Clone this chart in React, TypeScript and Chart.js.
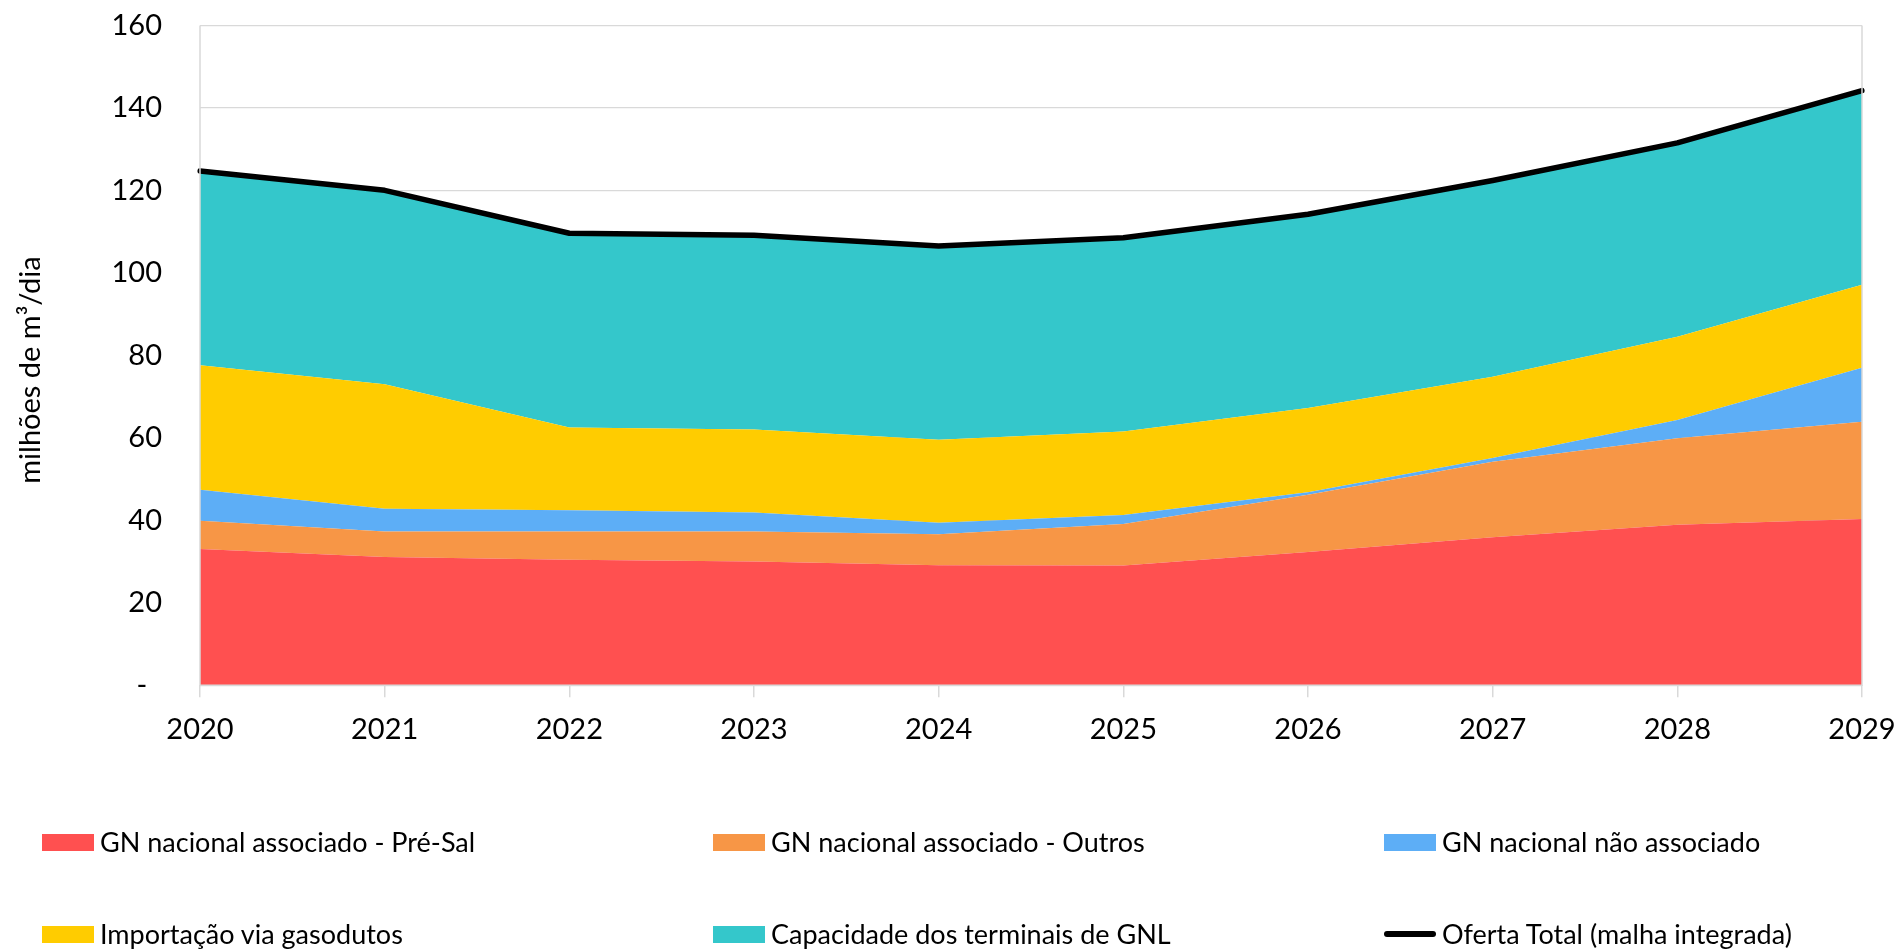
import React, { useEffect, useRef } from "react";
import { Chart, registerables } from "chart.js";

Chart.register(...registerables);

const years = ["2020", "2021", "2022", "2023", "2024", "2025", "2026", "2027", "2028", "2029"];
const preSal = [33.0, 31.1, 30.4, 30.0, 29.1, 29.0, 32.3, 35.9, 38.9, 40.3];
const outros = [6.9, 6.2, 6.9, 7.3, 7.5, 10.1, 13.9, 18.3, 21.0, 23.6];
const naoAssociado = [7.5, 5.5, 5.1, 4.6, 2.8, 2.2, 0.6, 0.9, 4.4, 13.1];
const importacao = [30.2, 30.2, 20.1, 20.1, 20.1, 20.2, 20.4, 19.7, 20.2, 20.1];
const gnl = [47.1, 47.0, 47.1, 47.1, 47.0, 47.0, 47.0, 47.4, 47.0, 47.1];
const ofertaTotal = [124.7, 120.0, 109.6, 109.1, 106.5, 108.5, 114.2, 122.4, 131.5, 144.2];

const seriesNames = [
  "GN nacional associado - Pré-Sal",
  "GN nacional associado - Outros",
  "GN nacional não associado",
  "Importação via gasodutos",
  "Capacidade dos terminais de GNL",
  "Oferta Total (malha integrada)",
];
const yTitle = "milhões de m³/dia";
const colors = ["#FF5050", "#F79646", "#5DAEF6", "#FFCC00", "#34C7CB", "#000000"];

const FONT = "Lato, 'Open Sans', sans-serif";
const GRID = "#D9D9D9";
const TICK_SIZE = 29;

const frame = {
  id: "plotFrame",
  afterDatasetsDraw(chart: any) {
    const { ctx, chartArea } = chart;
    const { left, right, top, bottom } = chartArea;
    ctx.save();
    ctx.strokeStyle = GRID;
    ctx.lineWidth = 1.5;
    ctx.beginPath();
    ctx.moveTo(left, top);
    ctx.lineTo(left, bottom);
    ctx.lineTo(right, bottom);
    ctx.lineTo(right, top);
    ctx.stroke();
    ctx.restore();
  },
  afterDraw(chart: any) {
    const { ctx } = chart;
    ctx.save();
    ctx.translate(23, 362);
    ctx.rotate(-Math.PI / 2);
    ctx.font = `${TICK_SIZE}px ${FONT}`;
    ctx.fillStyle = "#000";
    ctx.textAlign = "center";
    ctx.textBaseline = "middle";
    ctx.fillText(yTitle, 0, 0);
    ctx.restore();
  },
};

export default function App() {
  const ref = useRef<HTMLCanvasElement | null>(null);

  useEffect(() => {
    document.body.style.margin = "0";
    document.body.style.overflow = "hidden";
    if (!ref.current) return;
    const areaData = [preSal, outros, naoAssociado, importacao, gnl];
    const datasets: any[] = areaData.map((d, i) => ({
      label: seriesNames[i],
      data: d,
      backgroundColor: colors[i],
      borderColor: colors[i],
      borderWidth: 0,
      pointRadius: 0,
      fill: i === 0 ? "origin" : "-1",
      stack: "areas",
      order: 1,
      tension: 0,
    }));
    datasets.push({
      label: seriesNames[5],
      data: ofertaTotal,
      borderColor: "#000000",
      backgroundColor: "#000000",
      borderWidth: 5.5,
      borderCapStyle: "round",
      borderJoinStyle: "round",
      pointRadius: 0,
      fill: false,
      stack: "total",
      order: 0,
      tension: 0,
    });

    const chart = new Chart(ref.current, {
      type: "line",
      data: { labels: years, datasets },
      plugins: [frame],
      options: {
        animation: false,
        responsive: false,
        maintainAspectRatio: false,
        layout: { padding: { left: 0, right: 34, top: 0, bottom: 179 } },
        plugins: {
          legend: { display: false },
          tooltip: { enabled: false },
        },
        scales: {
          x: {
            offset: false,
            grid: {
              drawOnChartArea: false,
              drawTicks: true,
              tickLength: 12,
              color: GRID,
              lineWidth: 1.5,
            },
            border: { display: false },
            ticks: {
              color: "#000",
              font: { family: FONT, size: TICK_SIZE },
              padding: 15,
              maxRotation: 0,
              autoSkip: false,
            },
            afterFit: (scale: any) => {
              scale.paddingLeft = 0;
              scale.paddingRight = 0;
            },
          },
          y: {
            stacked: true,
            min: 0,
            max: 160,
            grid: {
              color: GRID,
              lineWidth: 1.3,
              drawTicks: true,
              tickLength: 38,
              tickColor: "rgba(0,0,0,0)",
            },
            border: { display: false },
            ticks: {
              stepSize: 20,
              color: "#000",
              font: { family: FONT, size: TICK_SIZE },
              padding: 0,
              callback: (v: any) => (Number(v) === 0 ? "-  " : String(v)),
            },
            title: { display: false },
            afterFit: (scale: any) => {
              scale.width = 192;
            },
          },
        },
      },
    });
    return () => chart.destroy();
  }, []);

  const cols = [42, 713, 1384];
  const rows = [842, 934];

  return (
    <div style={{ position: "relative", width: 1896, height: 949, overflow: "hidden" }}>
      <canvas
        ref={ref}
        width={1888}
        height={933}
        style={{ display: "block", position: "absolute", left: 8, top: 8 }}
      />
      {seriesNames.map((name, i) => {
        const col = i % 3;
        const row = Math.floor(i / 3);
        const isLine = i === 5;
        return (
          <div
            key={name}
            style={{
              position: "absolute",
              left: cols[col],
              top: rows[row] - 10,
              height: 20,
              lineHeight: "20px",
              display: "flex",
              alignItems: "center",
              fontFamily: FONT,
              fontSize: 27,
              color: "#000",
              whiteSpace: "nowrap",
            }}
          >
            <span
              style={{
                display: "inline-block",
                width: 52,
                height: isLine ? 6 : 17,
                borderRadius: isLine ? 3 : 0,
                background: colors[i],
                marginRight: 6,
              }}
            />
            <span>{name}</span>
          </div>
        );
      })}
    </div>
  );
}
